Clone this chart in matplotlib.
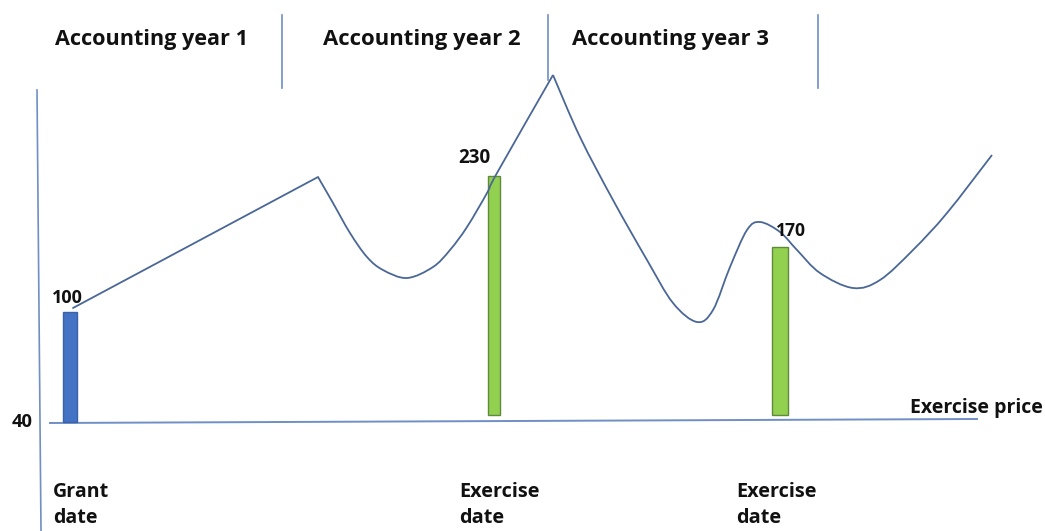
import matplotlib
matplotlib.use("Agg")
import matplotlib.pyplot as plt
from matplotlib.path import Path
from matplotlib.patches import PathPatch

# ---- data (x = time position, h = height above the exercise-price line) ----
path_x = [73, 318, 333, 350, 367, 383, 407, 433, 450, 467, 487, 497, 553,
          580, 613, 647, 673, 697, 713, 730, 747, 760, 780, 797, 820, 853,
          880, 913, 947, 992]
path_h = [113, 244, 218, 188, 164, 151, 143, 154, 171, 194, 228, 248, 346,
          284, 221, 161, 118, 99, 111, 154, 191, 199, 189, 171, 148, 133,
          141, 171, 208, 266]
corner_x = [73, 318, 553, 992]

bar_x = [70, 494, 780]
bar_bottom = [-1, 6, 6]
bar_h = [110, 239, 168]
bar_w = [14, 12, 16]
bar_colors = ["#4472C4", "#92D050", "#92D050"]
bar_edges = ["#3a62a8", "#5f8a3c", "#5f8a3c"]
bar_labels = ["100", "230", "170"]
bar_label_xy = [(52, 298), (458, 158), (776, 231)]
bar_label_w = [31, 32, 30]

year_labels = ["Accounting year 1", "Accounting year 2", "Accounting year 3"]
year_label_x = [55, 323, 572]
year_label_w = [193, 197, 196]
separator_x = [282, 548, 818]
separator_bottom = [88, 80, 88]

date_labels = ["Grant\ndate", "Exercise\ndate", "Exercise\ndate"]
date_label_x = [53, 459, 736]

BASE = 421  # pixel row of the exercise-price line
FAM = "Open Sans"

fig = plt.figure(figsize=(10.45, 5.31), dpi=100)
ax = fig.add_axes([0, 0, 1, 1])
ax.set_xlim(0, 1045)
ax.set_ylim(BASE - 531, BASE)
ax.axis("off")
renderer = fig.canvas.get_renderer()

def py(pix):
    return BASE - pix

def fit_text(x, y, s, width, **kw):
    t = ax.text(x, y, s, fontsize=12, fontweight="bold", family=FAM,
                color="#111111", **kw)
    w = t.get_window_extent(renderer).width
    t.set_fontsize(12 * width / w)
    return t

line_c = "#4a6796"
axis_c = "#6f8fc6"

# axes of the diagram
ax.plot([37, 41], [py(90), py(531)], color=axis_c, lw=1.2)
ax.plot([50, 977], [py(423), py(419)], color=axis_c, lw=1.4)

# separators
for sx, sb in zip(separator_x, separator_bottom):
    ax.plot([sx, sx], [py(15), py(sb)], color=axis_c, lw=1.2)

# bars
for x, b, h, w, c, e in zip(bar_x, bar_bottom, bar_h, bar_w, bar_colors, bar_edges):
    ax.bar(x, h, width=w, bottom=b, color=c, edgecolor=e, linewidth=1.0, zorder=2)

# price path: straight first leg, smooth (Catmull-Rom) pieces between corners
pts = list(zip(path_x, path_h))
idx = [path_x.index(c) for c in corner_x]
ax.plot([pts[idx[0]][0], pts[idx[1]][0]], [pts[idx[0]][1], pts[idx[1]][1]],
        color=line_c, lw=1.3, zorder=3, solid_capstyle="round")
for a, b in [(idx[1], idx[2]), (idx[2], idx[3])]:
    seg = pts[a:b + 1]
    verts = [seg[0]]
    codes = [Path.MOVETO]
    n = len(seg)
    for i in range(n - 1):
        p0 = seg[i - 1] if i > 0 else seg[i]
        p1 = seg[i]
        p2 = seg[i + 1]
        p3 = seg[i + 2] if i + 2 < n else seg[i + 1]
        c1 = (p1[0] + (p2[0] - p0[0]) / 6, p1[1] + (p2[1] - p0[1]) / 6)
        c2 = (p2[0] - (p3[0] - p1[0]) / 6, p2[1] - (p3[1] - p1[1]) / 6)
        verts += [c1, c2, p2]
        codes += [Path.CURVE4] * 3
    ax.add_patch(PathPatch(Path(verts, codes), fill=False, edgecolor=line_c,
                           lw=1.3, zorder=3, joinstyle="round"))

# texts
for lab, x, w in zip(year_labels, year_label_x, year_label_w):
    fit_text(x, py(39), lab, w, ha="left", va="center")
for lab, (x, y), w in zip(bar_labels, bar_label_xy, bar_label_w):
    fit_text(x, py(y), lab, w, ha="left", va="center", zorder=4)
fit_text(12, py(422), "40", 21, ha="left", va="center")
fit_text(910, py(408), "Exercise price", 132, ha="left", va="center")
for lab, x in zip(date_labels, date_label_x):
    w = 56 if lab.startswith("Grant") else 80
    fit_text(x, py(505), lab, w, ha="left", va="center", linespacing=1.35)

fig.savefig("out.png", dpi=100)
